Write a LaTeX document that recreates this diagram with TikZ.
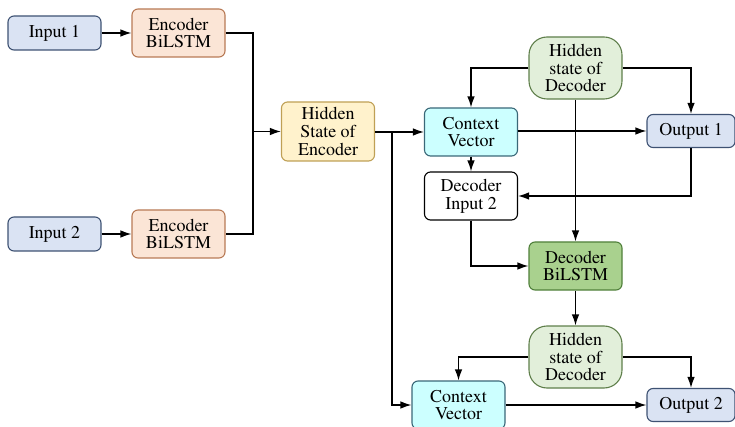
\documentclass[tikz,border=0pt]{standalone}
\usepackage[T1]{fontenc}
\usepackage{mathptmx}
\usepackage{tikz}
\usetikzlibrary{arrows.meta, positioning}

\definecolor{inFill}{HTML}{DAE3F3}
\definecolor{inLine}{HTML}{3E5273}
\definecolor{encFill}{HTML}{FBE5D6}
\definecolor{encLine}{HTML}{B87A55}
\definecolor{hidFill}{HTML}{FFF2CC}
\definecolor{hidLine}{HTML}{BFA055}
\definecolor{hdFill}{HTML}{E2EFDA}
\definecolor{hdLine}{HTML}{5F7F4B}
\definecolor{ctxFill}{HTML}{CCFFFF}
\definecolor{ctxLine}{HTML}{3A6878}
\definecolor{dbFill}{HTML}{A9D18E}
\definecolor{dbLine}{HTML}{50803B}

\begin{document}
\begin{tikzpicture}[x=1pt, y=-1pt,
    every node/.style={font=\rmfamily\fontsize{18}{17.7}\selectfont},
    box/.style={draw, rounded corners=6pt, align=center, line width=1.1pt, minimum width=93pt, inner sep=0pt},
    inbox/.style={box, fill=inFill, draw=inLine, minimum height=34pt},
    encbox/.style={box, fill=encFill, draw=encLine, minimum height=48pt},
    hidbox/.style={box, fill=hidFill, draw=hidLine, minimum height=59pt},
    hdbox/.style={box, fill=hdFill, draw=hdLine, minimum height=62pt, rounded corners=18pt},
    ctxbox/.style={box, fill=ctxFill, draw=ctxLine, minimum height=48pt},
    dbbox/.style={box, fill=dbFill, draw=dbLine, minimum height=48pt},
    plainbox/.style={box, fill=white, draw=black, minimum height=48pt},
    outbox/.style={box, fill=inFill, draw=inLine, minimum height=33pt, minimum width=88pt},
    link/.style={line width=1.3pt, -{Latex[length=11pt, width=7.5pt]}}]
\useasboundingbox (0,0) rectangle (735,427);

% encoder side
\foreach \y/\i in {33/1, 234/2} {
    \node[inbox] (in\i) at (54.5, \y) {Input \i};
    \node[encbox] (enc\i) at (178.5, \y) {Encoder\\BiLSTM};
    \draw[link] (in\i) -- (enc\i);
}
\node[hidbox] (hidenc) at (328, 131.5) {Hidden\\State of\\Encoder};
\coordinate (join) at (253, 131.5);
\draw[line width=1.3pt] (enc1.east) -| (join) |- (enc2.east);
\draw[link] (join) -- (hidenc);

% decoder side
\node[hdbox] (hid1) at (575.5, 68) {Hidden\\state of\\Decoder};
\node[ctxbox] (ctx1) at (471, 132) {Context\\Vector};
\node[outbox] (out1) at (691, 131) {Output 1};
\node[plainbox] (decin) at (471, 196) {Decoder\\Input 2};
\node[dbbox] (decb) at (575.5, 266) {Decoder\\BiLSTM};
\node[hdbox] (hid2) at (575.5, 357) {Hidden\\state of\\Decoder};
\node[ctxbox] (ctx2) at (458.5, 405) {Context\\Vector};
\node[outbox] (out2) at (691, 405) {Output 2};

\coordinate (split) at (392, 132);
\draw[link] (hidenc.east |- split) -- (ctx1.west |- split);
\draw[link] (split) |- (ctx2.west);
\draw[link] (hid1.west) -| (ctx1.north);
\draw[link] (hid1.east) -| (out1.north);
\draw[link] (hid1.south) -- (decb.north);
\draw[link] (ctx1.east |- out1) -- (out1.west);
\draw[link] (ctx1) -- (decin);
\draw[link] (out1.south) |- (decin.east);
\draw[link] (decin.south) |- (decb.west);
\draw[link] (decb) -- (hid2);
\draw[link] (hid2.west) -| (ctx2.north);
\draw[link] (hid2.east) -| (out2.north);
\draw[link] (ctx2) -- (out2);
\end{tikzpicture}
\end{document}
